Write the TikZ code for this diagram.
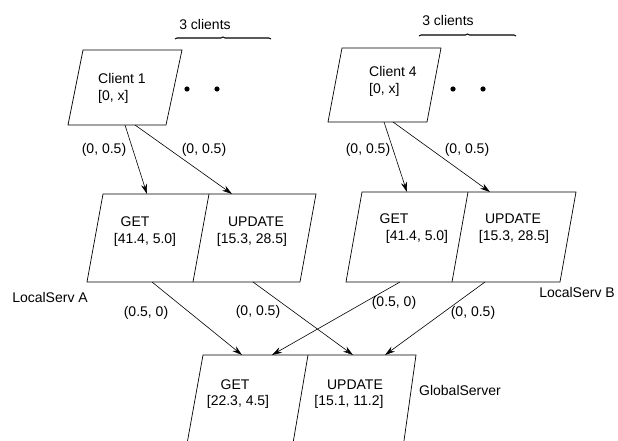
\documentclass[tikz,border=0pt]{standalone}
\usepackage{fontspec}
\setmainfont{Liberation Sans}
\usetikzlibrary{arrows.meta,decorations.pathreplacing}

\begin{document}
\begin{tikzpicture}[x=1pt,y=-1pt,>={Stealth[length=10pt,width=6pt]},
  every node/.style={font=\fontsize{14}{17}\selectfont,inner sep=0pt},
  box/.style={draw,line width=0.7pt},
  flow/.style={->,line width=0.6pt},
  group/.style={decorate,decoration={brace,amplitude=2pt},line width=1.1pt}]
  \useasboundingbox (0,0) rectangle (618,441);
  \clip (0,0) rectangle (618,441);

  % Clients
  \draw[box] (83,50) -- (182,50) -- (166,125) -- (68,125) -- cycle;
  \draw[box] (342,48) -- (441,48) -- (427,122) -- (328,122) -- cycle;
  \node[align=left,anchor=west] (cone) at (98,88) {Client 1\\{}[0, x]};
  \node[align=left,anchor=west] (cfour) at (369,81) {Client 4\\{}[0, x]};
  \foreach \x in {187,217,453,483}
    \fill (\x,89) circle[radius=2.6pt];

  % 3 clients braces
  \draw[group] (175,39) -- (271,39);
  \draw[group] (419,36) -- (516,36);
  \node (grpa) at (205,24) {3 clients};
  \node (grpb) at (448,20) {3 clients};

  % Local servers
  \draw[box] (103,194) -- (316,194) -- (300,282) -- (87,282) -- cycle;
  \draw[box] (209,194) -- (193,282);
  \draw[box] (362,192) -- (576,192) -- (560,282) -- (346,282) -- cycle;
  \draw[box] (468,192) -- (452,282);
  \node (agetl) at (135,222) {GET};
  \node (agetv) at (145,240) {[41.4, 5.0]};
  \node (aupdl) at (256,222) {UPDATE};
  \node (aupdv) at (252,240) {[15.3, 28.5]};
  \node (bgetl) at (394,219) {GET};
  \node (bgetv) at (417,237) {[41.4, 5.0]};
  \node (bupdl) at (513,219) {UPDATE};
  \node (bupdv) at (514,237) {[15.3, 28.5]};
  \node (lsa) at (50,297) {LocalServ A};
  \node (lsb) at (577,292) {LocalServ B};

  % Global server
  \draw[box] (203,355) -- (416,355) -- (402,455) -- (185,455) -- cycle;
  \draw[box] (308,355) -- (291,455);
  \node (ggetl) at (235,385) {GET};
  \node (ggetv) at (238,402) {[22.3, 4.5]};
  \node (gupdl) at (355,385) {UPDATE};
  \node (gupdv) at (349,402) {[15.1, 11.2]};
  \node (gs) at (460,390) {GlobalServer};

  % arrow ends
  \coordinate (coneget) at (125,125);
  \coordinate (coneupd) at (135,125);
  \coordinate (cfourget) at (384,122);
  \coordinate (cfourupd) at (393,122);
  \coordinate (agetin) at (147,194);
  \coordinate (aupdin) at (232,194);
  \coordinate (bgetin) at (407,192);
  \coordinate (bupdin) at (490,192);
  \coordinate (agetout) at (152,282);
  \coordinate (aupdout) at (253,282);
  \coordinate (bgetout) at (400,282);
  \coordinate (bupdout) at (485,282);
  \coordinate (ggetina) at (242,355);
  \coordinate (ggetinb) at (272,355);
  \coordinate (gupdina) at (353,355);
  \coordinate (gupdinb) at (385,355);

  \foreach \s/\t in {coneget/agetin, coneupd/aupdin, cfourget/bgetin,
      cfourupd/bupdin, agetout/ggetina, aupdout/gupdina,
      bgetout/ggetinb, bupdout/gupdinb}
    \draw[flow] (\s) -- (\t);

  % weights
  \node (wa) at (104,150) {(0, 0.5)};
  \node (wb) at (204,150) {(0, 0.5)};
  \node (wc) at (368,150) {(0, 0.5)};
  \node (wd) at (467,150) {(0, 0.5)};
  \node (we) at (146,313) {(0.5, 0)};
  \node (wf) at (258,312) {(0, 0.5)};
  \node (wg) at (394,303) {(0.5, 0)};
  \node (wh) at (473,313) {(0, 0.5)};
\end{tikzpicture}
\end{document}
